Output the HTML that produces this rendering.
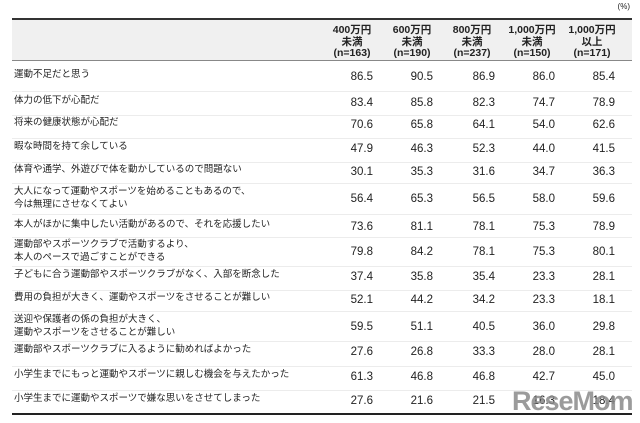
<!DOCTYPE html>
<html><head><meta charset="utf-8"><style>
body{margin:0;width:640px;height:423px;background:#fff;position:relative;overflow:hidden;font-family:"Liberation Sans","Noto Sans CJK JP",sans-serif;color:#222}
.a{position:absolute;white-space:nowrap}
.h{position:absolute;top:25px;width:60px;text-align:center;font-size:10.5px;font-weight:bold;line-height:11.5px}
.l{position:absolute;left:14px;font-size:9.5px;line-height:13px}
.v{position:absolute;width:60px;text-align:right;font-size:11.5px}
.sep{position:absolute;left:12px;width:620px;height:1px;background:#ececec}
</style></head><body>
<div class="a" style="right:10px;top:2px;font-size:8px">(%)</div>
<div style="position:absolute;left:12px;top:18px;width:620px;height:2px;background:#333"></div>
<div style="position:absolute;left:12px;top:20px;width:620px;height:40px;background:#f0f0f0"></div>
<div style="position:absolute;left:12px;top:60px;width:620px;height:1px;background:#888"></div>
<div class="h" style="left:322px">400万円<br>未満<br>(n=163)</div>
<div class="h" style="left:382px">600万円<br>未満<br>(n=190)</div>
<div class="h" style="left:442px">800万円<br>未満<br>(n=237)</div>
<div class="h" style="left:502px">1,000万円<br>未満<br>(n=150)</div>
<div class="h" style="left:562px">1,000万円<br>以上<br>(n=171)</div>
<div id="rows"></div>
<div style="position:absolute;left:12px;top:413px;width:620px;height:1.5px;background:#222"></div>
<div class="a" style="left:512px;top:386px;font-size:27px;font-weight:bold;color:#8a8a8a;opacity:.85;letter-spacing:-1px">ReseMom</div>
<script>
var d=[["運動不足だと思う",78,[86.5,90.5,86.9,86.0,85.4]],
["体力の低下が心配だ",104,[83.4,85.8,82.3,74.7,78.9]],
["将来の健康状態が心配だ",126,[70.6,65.8,64.1,54.0,62.6]],
["暇な時間を持て余している",150,[47.9,46.3,52.3,44.0,41.5]],
["体育や通学、外遊びで体を動かしているので問題ない",173,[30.1,35.3,31.6,34.7,36.3]],
["大人になって運動やスポーツを始めることもあるので、<br>今は無理にさせなくてよい",200,[56.4,65.3,56.5,58.0,59.6]],
["本人がほかに集中したい活動があるので、それを応援したい",228,[73.6,81.1,78.1,75.3,78.9]],
["運動部やスポーツクラブで活動するより、<br>本人のペースで過ごすことができる",253,[79.8,84.2,78.1,75.3,80.1]],
["子どもに合う運動部やスポーツクラブがなく、入部を断念した",278,[37.4,35.8,35.4,23.3,28.1]],
["費用の負担が大きく、運動やスポーツをさせることが難しい",301,[52.1,44.2,34.2,23.3,18.1]],
["送迎や保護者の係の負担が大きく、<br>運動やスポーツをさせることが難しい",328,[59.5,51.1,40.5,36.0,29.8]],
["運動部やスポーツクラブに入るように勧めればよかった",353,[27.6,26.8,33.3,28.0,28.1]],
["小学生までにもっと運動やスポーツに親しむ機会を与えたかった",378,[61.3,46.8,46.8,42.7,45.0]],
["小学生までに運動やスポーツで嫌な思いをさせてしまった",402,[27.6,21.6,21.5,16.3,18.4]]];
var xs=[313,373,435,495,555],h="";
d.forEach(function(r,i){var two=r[0].indexOf("<br>")>=0;
h+='<div class="l" style="top:'+(two?r[1]-15:r[1]-10)+'px">'+r[0]+'</div>';
r[2].forEach(function(v,j){h+='<div class="v" style="left:'+xs[j]+'px;top:'+(r[1]-7)+'px">'+v.toFixed(1)+'</div>'});
if(i<d.length-1)h+='<div class="sep" style="top:'+((r[1]+d[i+1][1])/2+ (d[i+1][0].indexOf("<br>")>=0?-4:0))+'px"></div>';});
document.getElementById("rows").innerHTML=h;
</script>
</body></html>
